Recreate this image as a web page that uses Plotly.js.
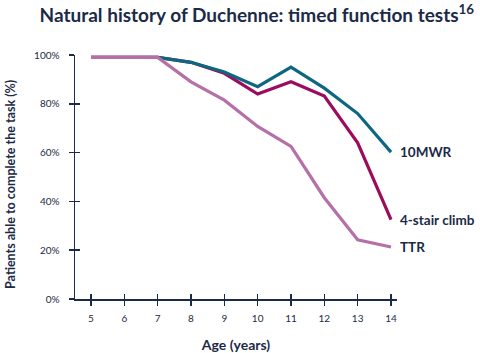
<!DOCTYPE html>
<html>
<head>
<meta charset="utf-8">
<script src="https://cdn.plot.ly/plotly-3.0.1.min.js"></script>
<style>html,body{margin:0;padding:0;background:#fff}#chart{width:480px;height:353px}</style>
</head>
<body>
<div id="chart"></div>
<script>
const ages = [5, 6, 7, 8, 9, 10, 11, 12, 13, 14];
const tenMWR = [99, 99, 99, 97, 93, 87, 95, 86.4, 76, 60.2];
const stairClimb = [99, 99, 99, 97, 92.5, 84, 89, 83.2, 64, 32.5];
const ttr = [99, 99, 99, 89, 81.5, 70.7, 62.5, 41.5, 24.3, 21.3];
const seriesNames = ['10MWR', '4-stair climb', 'TTR'];
const yTicks = [0, 20, 40, 60, 80, 100];
const yTickText = ['0%', '20%', '40%', '60%', '80%', '100%'];

const navy = '#1b2a47';
const colors = {'10MWR': '#0e6781', '4-stair climb': '#9d0b5d', 'TTR': '#b570a8'};
const font = 'Lato, "Noto Sans", sans-serif';

function trace(name, y) {
  return {x: ages, y: y, type: 'scatter', mode: 'lines', name: name,
    line: {color: colors[name], width: 3.2}, hoverinfo: 'skip', cliponaxis: false};
}
const data = [
  trace('4-stair climb', stairClimb),
  trace('10MWR', tenMWR),
  trace('TTR', ttr)
];
const lastVals = {'10MWR': tenMWR, '4-stair climb': stairClimb, 'TTR': ttr};
const annotations = seriesNames.map(n => ({
  x: ages[ages.length - 1], y: lastVals[n][lastVals[n].length - 1],
  xref: 'x', yref: 'y', text: '<b>' + n + '</b>', showarrow: false,
  xanchor: 'left', yanchor: 'middle', xshift: 7,
  font: {family: font, size: 13.5, color: navy}
}));
annotations.push({
  xref: 'paper', yref: 'paper', x: -0.2, y: 0.47, text: '<b>Patients able to complete the task (%)</b>',
  showarrow: false, textangle: -90, xanchor: 'center', yanchor: 'middle',
  font: {family: font, size: 12.5, color: navy}
});

const xr = [4.52, 14.18];
const layout = {
  width: 480, height: 353,
  margin: {l: 75, r: 83, t: 55, b: 54},
  paper_bgcolor: '#fff', plot_bgcolor: '#fff',
  showlegend: false,
  title: {text: '<b>Natural history of Duchenne: timed function tests<sup>16</sup></b>',
    font: {family: font, size: 19, color: navy}, x: 0.535, xanchor: 'center', y: 0.975, yanchor: 'top'},
  xaxis: {range: xr, tickvals: ages, ticks: 'outside', ticklen: 5, tickwidth: 1.5, tickcolor: navy,
    showline: true, linecolor: navy, linewidth: 1.5, showgrid: false, zeroline: false,
    tickfont: {family: font, size: 10, color: navy}, ticklabelstandoff: 4,
    title: {text: '<b>Age (years)</b>', font: {family: font, size: 14, color: navy}, standoff: 17}},
  xaxis2: {range: xr, overlaying: 'x', tickvals: ages, ticks: 'inside', ticklen: 5, tickwidth: 1.5, tickcolor: navy,
    showticklabels: false, showgrid: false, zeroline: false, showline: false, side: 'bottom'},
  yaxis: {range: [0, 100], tickvals: yTicks, ticktext: yTickText, ticks: 'outside', ticklen: 5, tickwidth: 1.5, tickcolor: navy,
    showline: true, linecolor: navy, linewidth: 1.5, showgrid: false, zeroline: false,
    tickfont: {family: font, size: 10, color: navy}, ticklabelstandoff: 7},
  yaxis2: {range: [0, 100], overlaying: 'y', tickvals: yTicks, ticks: 'inside', ticklen: 5, tickwidth: 1.5, tickcolor: navy,
    showticklabels: false, showgrid: false, zeroline: false, showline: false, side: 'left'},
  annotations: annotations
};
data.push({x: [ages[0]], y: [null], xaxis: 'x2', yaxis: 'y2', type: 'scatter', mode: 'lines', hoverinfo: 'skip'});
Plotly.newPlot('chart', data, layout, {staticPlot: true, displayModeBar: false});
</script>
</body>
</html>
